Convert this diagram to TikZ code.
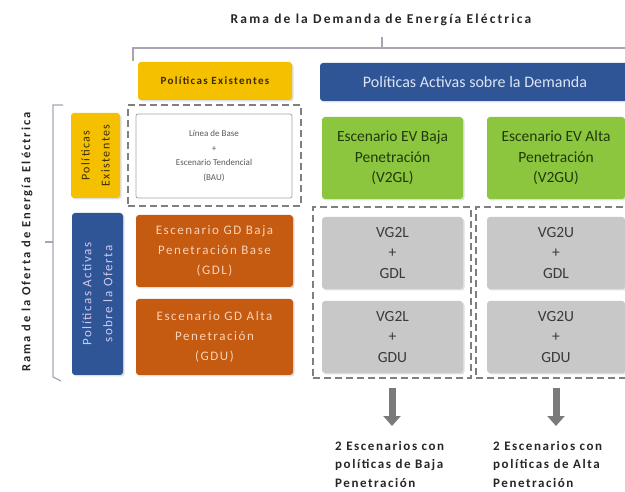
\documentclass[tikz,border=0pt]{standalone}
\usepackage{fontspec}
\setmainfont{Carlito}
\newfontfamily\spaced[LetterSpace=12]{Carlito}
\newfontfamily\wide[LetterSpace=16]{Carlito}
\usetikzlibrary{arrows.meta,shadows}
\definecolor{cyel}{HTML}{F5C000}
\definecolor{cyeltxt}{HTML}{3B2C00}
\definecolor{cblue}{HTML}{2F5597}
\definecolor{cbluetxt}{HTML}{DCE4F4}
\definecolor{cvbluetxt}{HTML}{CFC8EC}
\definecolor{corange}{HTML}{C55A11}
\definecolor{corangetxt}{HTML}{FAD3B8}
\definecolor{cgreen}{HTML}{8CC63F}
\definecolor{cgreentxt}{HTML}{1F3A0A}
\definecolor{cgray}{HTML}{C8C8C8}
\definecolor{cgraytxt}{HTML}{3A3A3A}
\definecolor{cdash}{HTML}{7F7F7F}
\definecolor{cbracket}{HTML}{A8A4B4}
\definecolor{carrow}{HTML}{7A7A7A}
\tikzset{
  boxbase/.style={rectangle, rounded corners=3pt, inner sep=2pt, align=center,
    drop shadow={shadow xshift=1.5pt, shadow yshift=-1.5pt, opacity=0.25}},
  yelbox/.style={boxbase, fill=cyel, text=cyeltxt},
  bluebox/.style={boxbase, fill=cblue, text=cbluetxt},
  orangebox/.style={boxbase, fill=corange, text=corangetxt, font=\spaced\fontsize{13}{20}\selectfont},
  greenbox/.style={boxbase, fill=cgreen, text=cgreentxt, font=\fontsize{15.5}{20.5}\selectfont},
  graybox/.style={boxbase, fill=cgray, text=cgraytxt, font=\fontsize{15.5}{20.5}\selectfont},
  whitebox/.style={rectangle, rounded corners=2pt, draw=gray!70, line width=0.8pt, fill=white,
    text=gray!70!black, align=center, font=\fontsize{9}{14.5}\selectfont},
  dashbox/.style={rectangle, draw=cdash, line width=1.5pt, dash pattern=on 7pt off 4pt},
  bracketline/.style={draw=cbracket, line width=1.3pt},
  bigarrow/.style={draw=carrow, line width=7pt, -{Triangle[width=17pt,length=10pt]}},
  headtext/.style={font=\wide\bfseries\fontsize{13.5}{15}\selectfont, text=black!85},
  bottomtext/.style={align=left, font=\spaced\bfseries\fontsize{13}{18.5}\selectfont, text=black!85}
}
\begin{document}
\begin{tikzpicture}[x=1pt,y=-1pt]
\useasboundingbox (0,0) rectangle (625,492);
\clip (0,0) rectangle (625,492);

% titles
\node[headtext] (ttop) at (381,20) {Rama de la Demanda de Energía Eléctrica};
\node[headtext, rotate=90, font=\wide\bfseries\fontsize{12.5}{15}\selectfont] (tleft) at (27,242) {Rama de la Oferta de Energía Eléctrica};

% top bracket
\coordinate (tbL) at (133,61);
\coordinate (tbLc) at (133,48);
\coordinate (tbR) at (640,48);
\coordinate (tbM) at (382,48);
\coordinate (tbMt) at (382,37);
\draw[bracketline] (tbL) -- (tbLc) -- (tbR);
\draw[bracketline] (tbM) -- (tbMt);

% left bracket
\coordinate (lbT) at (63,105);
\coordinate (lbTc) at (53,105);
\coordinate (lbB) at (53,377);
\coordinate (lbBe) at (61,381);
\coordinate (lbM) at (53,242);
\coordinate (lbMt) at (45,242);
\draw[bracketline] (lbT) -- (lbTc) -- (lbB) -- (lbBe);
\draw[bracketline] (lbM) -- (lbMt);

% header boxes
\node[yelbox, minimum width=154pt, minimum height=38pt, font=\spaced\bfseries\fontsize{11}{13}\selectfont] (hyel) at (215,81) {Políticas Existentes};
\node[bluebox, minimum width=310pt, minimum height=38pt, font=\fontsize{16}{18}\selectfont] (hblue) at (475,82) {Políticas Activas sobre la Demanda};

% left vertical boxes
\node[yelbox, rotate=90, minimum width=85pt, minimum height=49pt, font=\spaced\fontsize{12}{20}\selectfont] (vyel) at (95.5,155.5) {Políticas\\Existentes};
\node[bluebox, rotate=90, minimum width=162pt, minimum height=51pt, text=cvbluetxt, font=\spaced\fontsize{13}{21}\selectfont] (vblue) at (97.5,294) {Políticas Activas\\sobre la Oferta};

% base scenario
\node[dashbox, minimum width=173pt, minimum height=101pt] (dbase) at (214.5,155.5) {};
\node[whitebox, minimum width=156pt, minimum height=84pt] (base) at (214,156) {Línea de Base\\+\\Escenario Tendencial\\(BAU)};

% orange boxes
\node[orangebox, minimum width=157pt, minimum height=72pt] (gdl) at (214.5,251) {Escenario GD Baja\\Penetración Base\\(GDL)};
\node[orangebox, minimum width=157pt, minimum height=76pt] (gdu) at (214.5,337) {Escenario GD Alta\\Penetración\\(GDU)};

% green boxes
\node[greenbox, minimum width=141pt, minimum height=82pt] (evl) at (392.5,158) {Escenario EV Baja\\Penetración\\(V2GL)};
\node[greenbox, minimum width=138pt, minimum height=82pt] (evu) at (556,158) {Escenario EV Alta\\Penetración\\(V2GU)};

% dashed groups
\node[dashbox, minimum width=158pt, minimum height=171pt] (dl) at (392,292.5) {};
\node[dashbox, minimum width=164pt, minimum height=171pt] (du) at (558,292.5) {};

% gray boxes
\node[graybox, minimum width=141pt, minimum height=72pt] (c1) at (392.5,253) {VG2L\\+\\GDL};
\node[graybox, minimum width=141pt, minimum height=72pt] (c2) at (392.5,337) {VG2L\\+\\GDU};
\node[graybox, minimum width=138pt, minimum height=72pt] (c3) at (556,253) {VG2U\\+\\GDL};
\node[graybox, minimum width=138pt, minimum height=72pt] (c4) at (556,337) {VG2U\\+\\GDU};

% bottom texts
\node[bottomtext, anchor=north west, inner sep=0pt] (bl) at (335,441) {2 Escenarios con\\políticas de Baja\\Penetración};
\node[bottomtext, anchor=north west, inner sep=0pt] (bu) at (493,441) {2 Escenarios con\\políticas de Alta\\Penetración};

% arrows from the dashed groups to the texts
\draw[bigarrow, shorten <=9pt, shorten >=15pt] (dl.south -| 392,0) -- (bl.north -| 392,0);
\draw[bigarrow, shorten <=9pt, shorten >=15pt] (du.south -| 556,0) -- (bu.north -| 556,0);
\end{tikzpicture}
\end{document}
